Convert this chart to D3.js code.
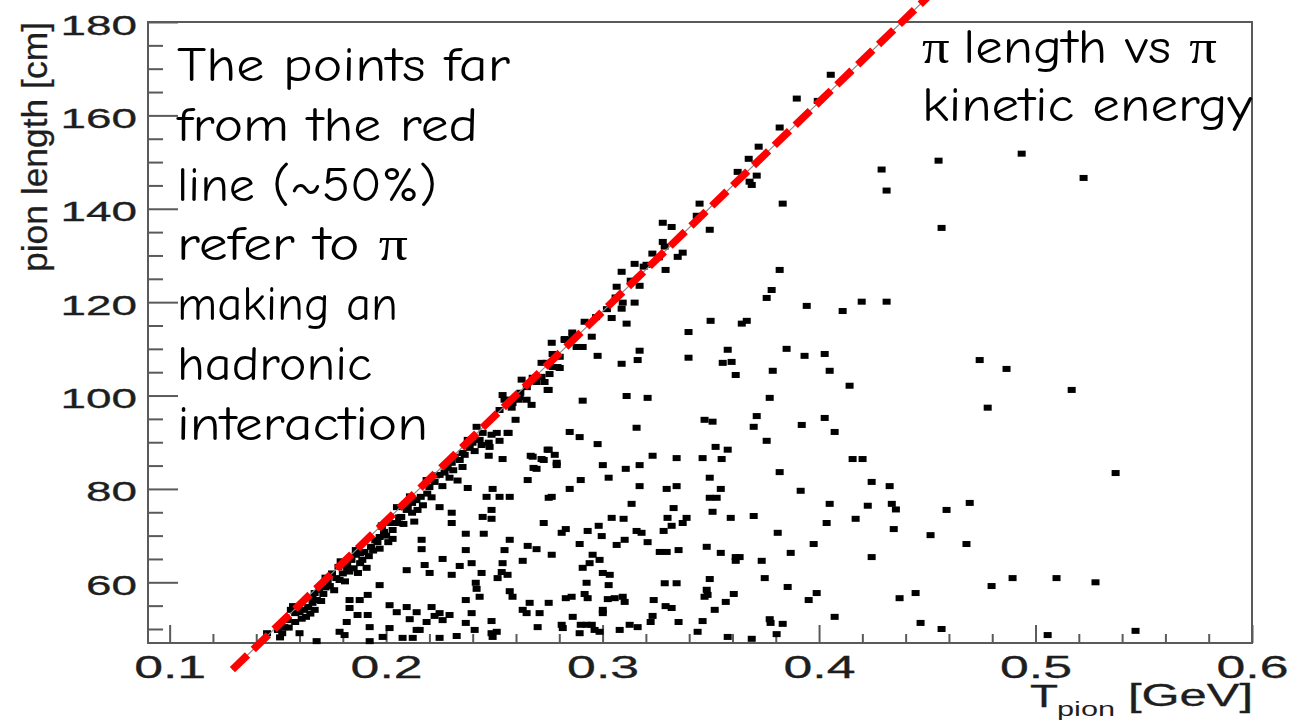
<!DOCTYPE html>
<html lang="en">
<head>
<meta charset="UTF-8">
<title>pion length vs pion kinetic energy</title>
<style>
  body { margin: 0; background: #fff; }
  svg { display: block; }
</style>
</head>
<body>

<div id="viz-wrapper"></div>

<script src="https://cdn.jsdelivr.net/npm/d3@7/dist/d3.min.js"></script>
<script>
// axis tick labels
var xTicks = [0.1, 0.2, 0.3, 0.4, 0.5, 0.6];
var yTicks = [60, 80, 100, 120, 140, 160, 180];

// end points of the red fit line, [T (GeV), length (cm)]
var fitLine = [[0.129, 41.3], [0.4505, 185.5]];

// events, [T (GeV), length (cm)]
// dense band along the line, low energy part
var bandPts = [
  [0.145,49.1],[0.150,49.8],[0.153,50.4],[0.1545,51.9],[0.158,53.4],[0.156,54.1],[0.160,53.6],[0.162,54.1],
  [0.164,54.7],[0.166,55.6],[0.167,54.1],[0.168,56.2],[0.167,57.7],[0.169,58.4],[0.172,58.9],[0.173,60.5],
  [0.175,61.9],[0.178,63.3],[0.1785,60.5],[0.180,61.9],[0.182,63.1],[0.182,64.1],[0.184,64.8],[0.186,65.9],
  [0.188,64.1],[0.189,64.8],[0.191,63.1],[0.190,66.5],[0.193,67.6],[0.196,68.6],[0.197,69.7],[0.199,70.8],
  [0.201,68.6],[0.198,71.9],[0.202,72.7],[0.203,71.2],[0.205,72.7],[0.207,74.0],[0.205,76.1],[0.2095,75.5],
  [0.212,74.9],[0.212,77.0],[0.214,77.6],[0.216,78.3],[0.2145,75.5],[0.2247,83.0],[0.2187,81.9],[0.220,80.4],
  [0.2224,81.5],[0.2284,84.5],[0.152,49.1],[0.163,52.6],[0.160,49.1],
  [0.151,48.2],[0.155,50.3],[0.158,51.5],[0.161,52.2],[0.165,53.3],[0.166,56.8],[0.170,56.0],[0.171,57.5],
  [0.174,59.2],[0.176,58.3],[0.177,60.9],[0.181,60.2],[0.183,62.3],[0.185,63.0],[0.187,62.0],[0.188,66.2],
  [0.192,65.6],[0.194,66.8],[0.195,69.0],[0.197,67.2],[0.200,70.0],[0.203,69.3],[0.206,73.9],[0.208,72.5],
  [0.210,76.0],[0.213,73.0],[0.217,76.5],[0.219,79.0],[0.221,78.2],[0.223,82.9],[0.226,80.6],[0.227,83.5],
  [0.231,84.0],[0.233,81.8],[0.172,61.0],[0.186,66.9],[0.198,72.2],[0.211,78.4],[0.157,54.9],[0.179,64.5]
];

// upper part of the band
var bandPts2 = [
  [0.2303,85.6],[0.234,86.2],[0.2353,87.7],[0.2386,88.8],[0.2432,90.5],[0.2446,92.0],[0.2478,89.0],[0.2487,91.6],
  [0.2566,92.0],[0.2547,99.1],[0.2612,99.1],[0.2617,99.7],[0.2695,102.9],[0.2718,104.0],[0.2746,101.2],[0.2741,107.0],
  [0.2769,106.1],[0.2802,105.9],[0.2825,111.9],[0.2862,112.6],[0.2677,86.9],[0.2728,86.2],[0.2681,84.5],[0.2746,88.4],
  [0.2788,85.6],[0.286,113.5],[0.297,116.8],[0.302,118.5],[0.306,121.0],[0.313,124.6],[0.319,127.6],[0.326,129.6],
  [0.262,100.6],[0.258,97.4],[0.265,101.8]
];

// low energy points away from the line
var lowPts = [
  [0.2247,76.1],[0.2164,69.1],[0.2164,67.1],[0.2261,65.0],[0.2095,62.6],[0.2178,63.7],[0.2201,62.0],[0.197,59.4],
  [0.1831,56.2],[0.1878,56.2],[0.1915,57.3],[0.1831,54.5],[0.2016,55.1],[0.2049,53.6],[0.2095,54.7],[0.2141,53.6],
  [0.2109,52.1],[0.221,54.7],[0.2247,53.4],[0.2261,51.9],[0.2187,51.5],[0.2155,49.8],[0.1868,53.0],[0.1915,53.0],
  [0.1924,50.4],[0.1818,51.5],[0.1785,49.4],[0.1808,48.7],[0.2016,50.2],[0.1984,48.3],[0.2076,48.1],[0.2123,48.1],
  [0.2141,49.8],[0.2247,48.1],[0.1924,47.4],[0.1679,47.4],[0.2409,49.8],[0.2224,52.8]
];

// middle of the plot
var midPts = [
  [0.323,130.4],[0.337,130.6],[0.3148,128.2],[0.3203,128.0],[0.3291,126.9],[0.3088,126.5],[0.3065,123.3],[0.3171,123.5],
  [0.3093,119.9],[0.3148,119.9],[0.3088,118.6],[0.3042,116.6],[0.2917,115.8],[0.3111,115.4],[0.295,112.6],[0.2825,112.1],
  [0.2862,112.4],[0.2765,111.3],[0.288,110.4],[0.2908,110.4],[0.2977,108.5],[0.3088,106.8],[0.3162,107.6],[0.3171,109.6],
  [0.2718,107.0],[0.2792,106.1],[0.2755,104.6],[0.2626,103.4],[0.2677,103.8],[0.2732,102.9],[0.2751,101.2],[0.2538,100.1],
  [0.2561,99.1],[0.2649,99.1],[0.2672,98.0],[0.2908,98.9],[0.3111,99.9],[0.3208,99.5],[0.2598,94.8],[0.2418,93.3],
  [0.2511,92.0],[0.2561,92.0],[0.2377,90.5],[0.2441,89.4],[0.2474,89.9],[0.2848,92.2],[0.2894,91.1],[0.3157,93.1],
  [0.2524,90.3],[0.2977,89.6],[0.2317,86.9],[0.2363,87.3],[0.2409,88.1],[0.2474,87.1],[0.2538,86.4],[0.2353,84.7],
  [0.2668,87.1],[0.2718,86.4],[0.2751,88.4],[0.2779,87.3],[0.2788,85.1],[0.2695,84.3],[0.2293,82.4],[0.2654,81.9],
  [0.3001,85.1],[0.3107,84.3],[0.3171,85.1],[0.3231,87.1],[0.3342,86.6],[0.3462,86.6],[0.355,86.4],[0.3578,88.4],
  [0.3522,89.0],[0.2899,81.9],[0.3028,82.4],[0.2377,80.2],[0.2492,80.0],[0.2464,78.3],[0.2524,78.3],[0.2571,78.3],
  [0.2848,80.0],[0.2751,78.1],[0.2765,78.3],[0.3171,80.6],[0.3296,80.0],[0.3342,80.6],[0.3495,82.4],[0.3546,80.0],
  [0.3495,78.1],[0.3527,78.1],[0.3818,83.6],[0.3915,79.6],[0.2487,75.5],[0.2303,74.9],[0.2446,74.0],[0.2487,73.6],
  [0.2303,72.7],[0.3134,76.8],[0.3328,75.9],[0.3508,75.1],[0.3592,73.8],[0.3698,74.2],[0.4049,76.8],[0.4225,76.4],
  [0.4336,76.8],[0.4355,75.6],[0.4243,81.5],[0.4326,80.6],[0.4155,86.4],[0.4201,86.4],[0.392,93.7],[0.4026,95.2],
  [0.4072,92.2],[0.3758,90.3],[0.3698,93.3],[0.3712,95.6],[0.3772,99.5],[0.3471,94.8],[0.3508,94.4],[0.2368,70.4],
  [0.2451,70.4],[0.2728,72.7],[0.283,71.4],[0.2811,70.6],[0.2931,71.0],[0.2982,72.1],[0.2996,69.9],[0.3042,73.8],
  [0.3097,73.6],[0.3157,71.0],[0.318,70.6],[0.33,73.8],[0.3388,73.8],[0.3319,72.1],[0.337,72.7],[0.3282,71.0],
  [0.3208,68.6],[0.3102,69.1],[0.3065,68.0],[0.2894,68.2],[0.2571,69.1],[0.2547,66.9],[0.2654,67.8],[0.2695,67.1],
  [0.2368,66.9],[0.2765,65.9],[0.2954,65.9],[0.2986,64.8],[0.294,64.1],[0.2908,63.1],[0.3264,66.5],[0.3296,66.5],
  [0.3351,66.9],[0.3481,67.6],[0.3546,66.3],[0.3615,65.4],[0.3633,65.4],[0.3615,64.6],[0.3735,64.6],[0.3869,66.3],
  [0.3809,70.6],[0.3975,68.2],[0.4035,72.7],[0.4169,73.6],[0.4345,71.4],[0.4243,65.4],[0.234,63.5],[0.2395,64.1],
  [0.2303,61.6],[0.2441,62.0],[0.2534,62.2],[0.2515,60.9],[0.2561,61.6],[0.2538,64.1],[0.2631,64.6],[0.2414,59.9],
  [0.2418,58.6],[0.2571,58.1],[0.2584,56.9],[0.2368,56.2],[0.2432,56.9],[0.2663,55.6],[0.2751,55.6],[0.2631,54.1],
  [0.2649,53.4],[0.2709,53.4],[0.283,56.6],[0.2857,56.9],[0.2917,57.5],[0.2931,56.6],[0.2926,59.9],[0.3001,62.0],
  [0.3033,61.6],[0.3028,59.4],[0.3024,56.4],[0.3056,56.6],[0.3093,56.9],[0.3102,55.8],[0.3001,54.1],[0.3001,53.4],
  [0.3287,59.8],[0.3342,59.8],[0.3236,56.2],[0.3291,54.9],[0.3319,54.5],[0.3231,52.8],[0.3222,51.5],[0.3351,51.5],
  [0.3462,51.7],[0.3439,49.4],[0.3481,58.4],[0.3485,57.3],[0.3471,56.9],[0.3495,60.7],[0.3518,54.1],[0.3569,55.8],
  [0.3606,57.5],[0.3749,60.9],[0.3855,59.0],[0.3952,56.2],[0.3989,57.7],[0.4072,52.6],[0.3772,52.1],[0.3776,51.3],
  [0.3832,51.1],[0.3804,48.9],[0.3578,48.3],[0.3689,47.9],[0.2293,53.0],[0.2368,51.3],[0.2395,53.4],[0.2487,51.7],
  [0.2487,49.1],[0.2511,49.4],[0.2492,48.3],[0.27,50.4],[0.2811,50.9],[0.2816,50.2],[0.2862,52.6],[0.2899,50.9],
  [0.2926,50.9],[0.295,50.9],[0.2894,49.1],[0.2963,49.8],[0.2986,49.4],[0.3079,49.8],[0.3125,50.9],[0.3162,50.4],
  [0.2326,48.5],[0.3818,126.9],[0.3781,122.6],[0.3758,120.9],[0.3943,119.2],[0.4109,118.1],[0.4197,120.1],[0.4312,120.1],
  [0.3499,116.0],[0.3643,115.4],[0.3666,116.0],[0.3397,113.6],[0.385,110.0],[0.3578,109.8],[0.3555,107.0],[0.3596,107.2],
  [0.3397,108.1],[0.3933,108.5],[0.4026,108.9],[0.3786,105.3],[0.3615,104.4],[0.4049,105.3],[0.4141,102.1],[0.2524,96.9],
  [0.2584,98.4],[0.2802,108.3],[0.2769,108.9],[0.2399,89.9]
];

// upper part of the band and high energy tail
var highPts = [
  [0.4054,168.7],[0.3897,163.6],[0.3994,163.1],[0.3818,157.4],[0.3721,153.3],[0.3675,150.7],[0.3624,147.9],[0.3712,147.1],
  [0.3679,145.8],[0.3689,145.1],[0.3832,141.1],[0.3448,141.1],[0.3435,138.5],[0.3495,135.5],[0.3278,137.0],[0.3319,136.1],
  [0.3278,132.9],[0.3287,131.9],[0.3347,129.7],[0.4289,148.4],[0.4312,143.9],[0.4552,150.3],[0.4936,151.8],[0.5222,146.6],
  [0.4566,135.9],[0.4742,107.6],[0.4866,105.7],[0.4779,97.4],[0.5167,101.2],[0.4589,75.5],[0.4696,77.0],[0.4515,70.1],
  [0.4681,68.2],[0.537,83.4],[0.4797,59.2],[0.4894,60.9],[0.5097,60.9],[0.5277,60.0],[0.4372,56.6],[0.4446,57.7],
  [0.4469,51.3],[0.4566,50.0],[0.5056,48.7],[0.5462,49.6]
];

// annotation text
var leftNote = ['The points far', 'from the red', 'line (~50%)', 'refer to ', 'making an', 'hadronic', 'interaction'];
var rightNote = ['length vs ', 'kinetic energy'];

var width = 1305,
    height = 721;

var svg = d3.select('#viz-wrapper')
  .append('svg')
  .attr('width', width)
  .attr('height', height);

svg.append('rect').attr('width', width).attr('height', height).attr('fill', '#fff');

var x = d3.scaleLinear().domain([0.09, 0.6]).range([148, 1252]);
var y = d3.scaleLinear().domain([47, 180]).range([643, 22]);

// minor ticks: every 0.02 GeV and every 5 cm
var xMinor = d3.range(5, 30).filter(function(i) { return i % 5 !== 0; }).map(function(i) { return i * 0.02; });
var yMinor = d3.range(10, 36).map(function(i) { return i * 5; }).filter(function(v) { return v % 20 !== 0; });

var axisColor = '#5a5a5a';
var textColor = '#1e1e1e';
var numFont = '"Liberation Sans", Arial, Helvetica, sans-serif';

function styleAxis(g) {
  g.select('.domain').remove();
  g.selectAll('.tick line').attr('stroke', axisColor).attr('stroke-width', 2);
}

// x axis
svg.append('g')
  .attr('transform', 'translate(0,643)')
  .call(d3.axisBottom(x).tickValues(xMinor).tickSize(-9).tickFormat(''))
  .call(styleAxis);

var gx = svg.append('g')
  .attr('transform', 'translate(0,643)')
  .call(d3.axisBottom(x).tickValues(xTicks).tickSize(-18).tickSizeOuter(0).tickFormat(d3.format('.1f')))
  .call(styleAxis);

gx.selectAll('.tick text')
  .attr('y', 35)
  .attr('dy', 0)
  .attr('fill', textColor)
  .attr('stroke', textColor)
  .attr('stroke-width', 0.3)
  .attr('font-family', numFont)
  .attr('font-size', 32)
  .attr('textLength', 72)
  .attr('lengthAdjust', 'spacingAndGlyphs');

// y axis
svg.append('g')
  .attr('transform', 'translate(148,0)')
  .call(d3.axisLeft(y).tickValues(yMinor).tickSize(-15).tickFormat(''))
  .call(styleAxis);

var gy = svg.append('g')
  .attr('transform', 'translate(148,0)')
  .call(d3.axisLeft(y).tickValues(yTicks).tickSize(-30).tickSizeOuter(0).tickPadding(11).tickFormat(d3.format('d')))
  .call(styleAxis);

gy.selectAll('.tick text')
  .attr('dy', '0.43em')
  .attr('fill', textColor)
  .attr('stroke', textColor)
  .attr('stroke-width', 0.3)
  .attr('font-family', numFont)
  .attr('font-size', 28)
  .attr('textLength', function(d) { return String(d).length * 25.5; })
  .attr('lengthAdjust', 'spacingAndGlyphs');

// frame
svg.append('rect')
  .attr('x', x.range()[0])
  .attr('y', y.range()[1])
  .attr('width', x.range()[1] - x.range()[0])
  .attr('height', y.range()[0] - y.range()[1])
  .attr('fill', 'none')
  .attr('stroke', axisColor)
  .attr('stroke-width', 2);

// axis titles
svg.append('text')
  .attr('transform', 'translate(47,22) rotate(-90)')
  .attr('text-anchor', 'end')
  .attr('font-family', numFont)
  .attr('font-size', 35)
  .attr('fill', textColor)
  .attr('stroke', textColor)
  .attr('stroke-width', 0.3)
  .attr('textLength', 250)
  .attr('lengthAdjust', 'spacingAndGlyphs')
  .text('pion length [cm]');

svg.append('text').attr('x', 1030).attr('y', 707)
  .attr('font-family', numFont).attr('font-size', 32).attr('fill', textColor)
  .attr('stroke', textColor).attr('stroke-width', 0.3)
  .attr('textLength', 28).attr('lengthAdjust', 'spacingAndGlyphs')
  .text('T');
svg.append('text').attr('x', 1057).attr('y', 716)
  .attr('font-family', numFont).attr('font-size', 20).attr('fill', textColor)
  .attr('textLength', 58).attr('lengthAdjust', 'spacingAndGlyphs')
  .text('pion');
svg.append('text').attr('x', 1128).attr('y', 706)
  .attr('font-family', numFont).attr('font-size', 32).attr('fill', textColor)
  .attr('stroke', textColor).attr('stroke-width', 0.3)
  .attr('textLength', 125).attr('lengthAdjust', 'spacingAndGlyphs')
  .text('[GeV]');

// events
var allPts = bandPts.concat(bandPts2, lowPts, midPts, highPts);
var mw = 8, mh = 6;

svg.append('g')
  .selectAll('rect')
  .data(allPts)
  .enter()
  .append('rect')
  .attr('x', function(d) { return x(d[0]) - mw / 2; })
  .attr('y', function(d) { return y(d[1]) - mh / 2; })
  .attr('width', mw)
  .attr('height', mh)
  .attr('fill', '#000');

// fit line: thin grey line under a thick red dashed one
var lineGen = d3.line()
  .x(function(d) { return x(d[0]); })
  .y(function(d) { return y(d[1]); });

svg.append('path').datum(fitLine).attr('d', lineGen)
  .attr('fill', 'none').attr('stroke', '#8a8a8a').attr('stroke-width', 1.2);

svg.append('path').datum(fitLine).attr('d', lineGen)
  .attr('fill', 'none')
  .attr('stroke', '#ff0000')
  .attr('stroke-width', 7.5)
  .attr('stroke-dasharray', '21,8');

// annotations
var noteFont = '"Comic Sans MS", "Comic Neue", "Noto Sans", sans-serif';
var piFont = '"Liberation Serif", "DejaVu Serif", serif';
var leftWidths = [333, 301, 260, 231, 221, 195, 251];

leftNote.forEach(function(line, i) {
  var t = svg.append('text')
    .attr('x', 177)
    .attr('y', 81 + i * 59.8)
    .attr('font-family', noteFont)
    .attr('font-size', 48)
    .attr('fill', '#000')
    .attr('textLength', leftWidths[i])
    .attr('lengthAdjust', 'spacingAndGlyphs');
  t.append('tspan').text(line);
  if (i === 3) {
    t.append('tspan').attr('font-family', piFont).text('\u03c0');
  }
});

var r1 = svg.append('text')
  .attr('x', 922).attr('y', 63)
  .attr('font-family', noteFont).attr('font-size', 48).attr('fill', '#000')
  .attr('textLength', 295).attr('lengthAdjust', 'spacingAndGlyphs');
r1.append('tspan').attr('font-family', piFont).text('\u03c0 ');
r1.append('tspan').text(rightNote[0]);
r1.append('tspan').attr('font-family', piFont).text('\u03c0');

svg.append('text')
  .attr('x', 922).attr('y', 121)
  .attr('font-family', noteFont).attr('font-size', 48).attr('fill', '#000')
  .attr('textLength', 330).attr('lengthAdjust', 'spacingAndGlyphs')
  .text(rightNote[1]);
</script>

</body>
</html>
